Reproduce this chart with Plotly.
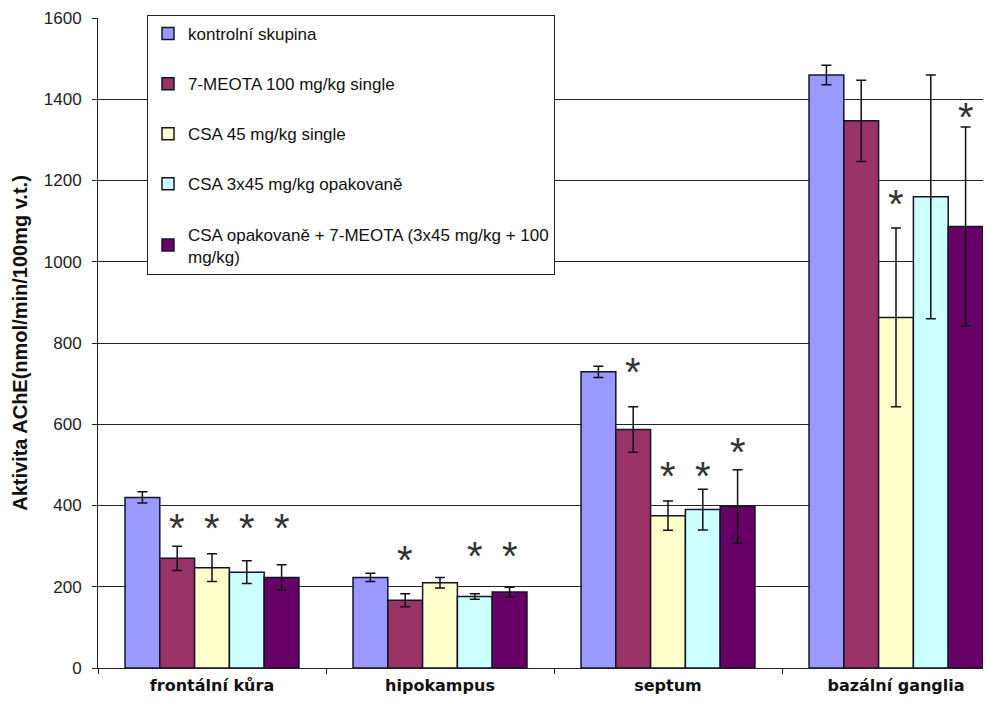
import plotly.graph_objects as go

categories = ["frontální kůra", "hipokampus", "septum", "bazální ganglia"]
series_names = [
    "kontrolní skupina",
    "7-MEOTA 100 mg/kg single",
    "CSA 45 mg/kg single",
    "CSA 3x45 mg/kg opakovaně",
    "CSA opakovaně + 7-MEOTA (3x45 mg/kg + 100<br>mg/kg)",
]
control = [420, 223, 729, 1460]
meota = [270, 167, 587, 1347]
csa45 = [247, 210, 375, 863]
csa3x45 = [236, 176, 390, 1160]
combined = [223, 187, 398, 1087]

err_control = [14, 10, 14, 24]
err_meota = [30, 16, 56, 100]
err_csa45 = [34, 13, 36, 220]
err_csa3x45 = [28, 7, 50, 300]
err_combined = [31, 12, 90, 245]

# asterisk (significance) heights, per series, per category
star_control = [None, None, None, None]
star_meota = [354, 276, 738, None]
star_csa45 = [354, None, 483, 1153]
star_csa3x45 = [354, 285, 483, None]
star_combined = [354, 285, 542, 1366]

colors = ["#9999FF", "#993366", "#FFFFCC", "#CCFFFF", "#660066"]
values = [control, meota, csa45, csa3x45, combined]
errors = [err_control, err_meota, err_csa45, err_csa3x45, err_combined]
stars = [star_control, star_meota, star_csa45, star_csa3x45, star_combined]

fig = go.Figure()
for i, (name, vals, errs, col) in enumerate(zip(series_names, values, errors, colors)):
    fig.add_trace(go.Bar(
        x=categories, y=vals, name=name, legendgroup=f"g{i}",
        marker=dict(color=col, line=dict(color="#141428", width=1.5)),
        error_y=dict(type="data", array=errs, visible=True, color="#111111", thickness=1.5, width=5),
    ))

# page has an 8px body margin, so the figure is sized to fit the window
W, H = 990, 701
L, R, T, B = 90, 15, 10, 41
plot_w = W - L - R
plot_h = H - T - B
bargap = 0.237
cat_px = 228  # the original plot area is cut at the right edge
x_max = -0.5 + plot_w / cat_px
bar_w = cat_px * (1 - bargap) / len(series_names)

annotations = []
for i, st in enumerate(stars):
    for c, yv in zip(categories, st):
        if yv is None:
            continue
        annotations.append(dict(
            x=c, y=yv, xref="x", yref="y", text="*", showarrow=False,
            xshift=(i - 2) * bar_w, yshift=-4, yanchor="middle",
            font=dict(family="Liberation Sans, Arial", size=40, color="#333333"),
        ))

fig.update_layout(
    width=W, height=H,
    margin=dict(l=L, r=R, t=T, b=B, autoexpand=False),
    paper_bgcolor="white", plot_bgcolor="white",
    barmode="group", bargap=bargap, bargroupgap=0,
    font=dict(family="Liberation Sans, Arial", size=17, color="#222222"),
    showlegend=True,
    legend=dict(
        x=(139 - L) / plot_w, y=(H - B - 7) / plot_h, xanchor="left", yanchor="top",
        bgcolor="white", bordercolor="#222222", borderwidth=1,
        font=dict(family="Liberation Sans, Arial", size=17, color="#111111"),
        tracegroupgap=25, traceorder="grouped", itemwidth=30,
    ),
    annotations=annotations,
)
fig.update_yaxes(
    range=[0, 1600], dtick=200, showgrid=True, gridcolor="#222222", gridwidth=1,
    showline=True, linecolor="#222222", linewidth=1, ticks="outside", ticklen=5,
    tickcolor="#222222", zeroline=False, automargin=False, ticklabelstandoff=7,
    tickfont=dict(family="Liberation Sans, Arial", size=17, color="#222222"),
    title=dict(text="<b>Aktivita AChE(nmol/min/100mg v.t.)</b>", standoff=10,
               font=dict(family="Liberation Sans, Arial", size=20, color="#111111")),
)
fig.update_xaxes(
    range=[-0.5, x_max],
    showline=True, linecolor="#222222", linewidth=1, ticks="outside", ticklen=5,
    tickson="boundaries", tickcolor="#222222", showgrid=False, automargin=False,
    ticklabelstandoff=3,
    tickfont=dict(family="DejaVu Sans", size=16, color="#111111"),
    tickprefix="<b>", ticksuffix="</b>",
)
fig.write_html("out.html")
